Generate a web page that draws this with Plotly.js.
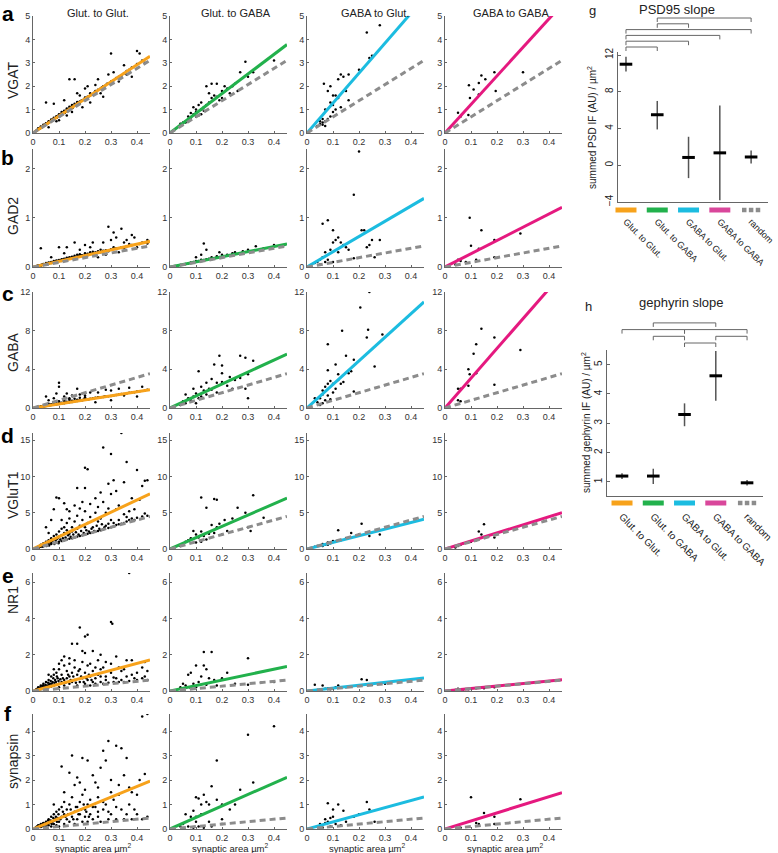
<!DOCTYPE html>
<html>
<head>
<meta charset="utf-8">
<script src="https://cdn.plot.ly/plotly-3.0.1.min.js"></script>
<style>
html, body { margin: 0; padding: 0; background: #fff; }
#chart { width: 778px; height: 853px; }
</style>
</head>
<body>
<div id="chart"></div>
<script>
const W = 778, H = 853;
const FONT = 'Arial, "Liberation Sans", sans-serif';

// ---- scatter grid data ----
const columnNames = ["Glut. to Glut.", "Glut. to GABA", "GABA to Glut.", "GABA to GABA"];
const rowMarkers = ["VGAT", "GAD2", "GABA", "VGluT1", "NR1", "synapsin"];
const rowLetters = ["a", "b", "c", "d", "e", "f"];
const yMaxes = [5, 2.4, 12, 16, 6.5, 4.7];
const yTickSets = [[0, 1, 2, 3, 4, 5], [0, 1, 2], [0, 4, 8, 12], [0, 5, 10, 15], [0, 2, 4, 6], [0, 1, 2, 3, 4]];
const xTicks = [0, 0.1, 0.2, 0.3, 0.4];
const xFitEnd = 0.45;

// fitted slopes, one per column, and the slope of the random pairing
const fitSlopes = [
	[7.3, 8.4, 12.8, 12.2],
	[1.16, 1.04, 3.1, 2.7],
	[4.2, 12.4, 24.4, 30.8],
	[16.9, 15.6, 9.1, 11.1],
	[3.8, 3.0, 1.6, 1.38],
	[4.35, 4.7, 2.9, 3.3]
];
const randomSlopes = [6.9, 0.95, 7.9, 10.0, 1.33, 1.0];
const fitColors = ["#F7A21B", "#22B14C", "#1CBCE0", "#E5197F"];
const randomColor = "#8c8c8c";

const vgatPoints = [
	[[0.01,0.08],[0.015,0.12],[0.02,0.15],[0.02,0.2],[0.025,0.18],[0.03,0.22],[0.03,0.28],[0.035,0.25],[0.04,0.3],[0.04,0.35],[0.045,0.32],[0.05,0.38],[0.05,0.42],[0.055,0.4],[0.06,0.45],[0.06,0.5],[0.065,0.48],[0.07,0.52],[0.07,0.58],[0.075,0.55],[0.08,0.6],[0.08,0.65],[0.085,0.62],[0.09,0.68],[0.09,0.72],[0.095,0.7],[0.1,0.75],[0.1,0.8],[0.105,0.78],[0.11,0.82],[0.11,0.9],[0.115,0.85],[0.12,0.88],[0.12,0.95],[0.125,0.92],[0.13,0.98],[0.13,1.05],[0.135,1.0],[0.14,1.05],[0.14,1.12],[0.145,1.08],[0.15,1.1],[0.15,1.2],[0.16,1.18],[0.16,1.25],[0.17,1.25],[0.17,1.32],[0.18,1.35],[0.18,1.28],[0.19,1.4],[0.2,1.45],[0.2,1.52],[0.21,1.55],[0.22,1.6],[0.22,1.7],[0.23,1.65],[0.24,1.8],[0.25,1.85],[0.26,1.9],[0.27,2.0],[0.28,2.05],[0.29,2.1],[0.3,2.2],[0.31,2.25],[0.32,2.35],[0.34,2.45],[0.35,2.55],[0.37,2.7],[0.38,2.8],[0.4,2.95],[0.42,3.1],[0.05,1.3],[0.08,1.25],[0.14,2.3],[0.16,2.3],[0.12,1.4],[0.17,1.7],[0.2,1.9],[0.25,2.3],[0.3,3.4],[0.4,3.5],[0.41,3.4],[0.36,2.5],[0.33,2.2],[0.38,2.4],[0.27,1.55],[0.1,0.55],[0.15,0.9],[0.19,1.1],[0.22,1.3],[0.24,2.05],[0.29,2.5],[0.35,2.9],[0.43,3.0],[0.06,0.25],[0.09,0.5],[0.13,0.75],[0.18,1.6],[0.21,2.0],[0.26,1.7],[0.31,2.6],
	 [0.012,0.1],[0.018,0.14],[0.022,0.17],[0.028,0.2],[0.032,0.24],[0.038,0.27],[0.042,0.33],[0.048,0.36],[0.052,0.37],[0.058,0.43],[0.062,0.47],[0.068,0.5],[0.072,0.53],[0.078,0.6],[0.082,0.58],[0.088,0.66],[0.092,0.65],[0.098,0.74],[0.102,0.72],[0.108,0.8],[0.112,0.78],[0.118,0.9],[0.122,0.86],[0.128,0.95],[0.132,0.93],[0.138,1.02],[0.142,1.0],[0.148,1.12],[0.152,1.07],[0.158,1.15],[0.162,1.2],[0.168,1.22],[0.172,1.28],[0.178,1.3],[0.185,1.38],[0.195,1.42],[0.205,1.5],[0.215,1.57],[0.235,1.72],[0.245,1.78],[0.265,1.95],[0.285,2.1],[0.33,2.4],[0.36,2.65]],
	[[0.05,0.45],[0.06,0.5],[0.07,0.55],[0.08,0.6],[0.09,1.1],[0.09,0.8],[0.1,0.9],[0.1,1.0],[0.1,0.7],[0.11,0.75],[0.11,1.2],[0.12,1.0],[0.12,1.3],[0.13,1.1],[0.13,0.95],[0.14,1.2],[0.14,2.0],[0.15,1.3],[0.15,1.7],[0.16,1.5],[0.16,2.1],[0.17,1.6],[0.18,1.55],[0.18,2.1],[0.19,1.4],[0.2,1.8],[0.21,2.0],[0.22,1.9],[0.23,1.7],[0.25,2.1],[0.27,2.6],[0.29,3.05],[0.3,2.4],[0.32,2.6],[0.4,3.1],[0.07,0.7],[0.08,0.85],[0.12,0.8],[0.04,0.4],[0.06,0.45],[0.2,1.5],[0.24,2.0],[0.26,1.8]],
	[[0.05,0.4],[0.05,0.5],[0.06,0.35],[0.06,0.45],[0.065,2.1],[0.07,0.5],[0.07,1.0],[0.08,1.8],[0.08,0.6],[0.09,1.3],[0.09,2.0],[0.1,1.2],[0.1,0.9],[0.11,1.0],[0.11,1.6],[0.12,2.3],[0.12,1.5],[0.13,2.5],[0.13,1.1],[0.14,2.4],[0.15,1.8],[0.16,2.5],[0.16,1.4],[0.2,2.7],[0.23,4.3],[0.24,3.2],[0.25,3.3],[0.28,4.6],[0.04,0.3],[0.07,0.3],[0.09,0.7],[0.1,1.6],[0.06,0.6]],
	[[0.092,2.04],[0.11,1.86],[0.096,1.5],[0.13,2.14],[0.14,2.46],[0.155,2.3],[0.19,2.6],[0.195,1.8],[0.3,2.6],[0.13,1.65],[0.05,0.87],[0.09,0.77],[0.06,0.7]]
];

const gad2Points = [
	[[0.01,0.01],[0.015,0.02],[0.02,0.02],[0.02,0.03],[0.025,0.03],[0.03,0.03],[0.03,0.04],[0.035,0.05],[0.04,0.04],[0.04,0.06],[0.045,0.05],[0.05,0.06],[0.05,0.08],[0.055,0.07],[0.06,0.07],[0.06,0.09],[0.065,0.08],[0.07,0.08],[0.07,0.1],[0.075,0.09],[0.08,0.1],[0.08,0.12],[0.085,0.1],[0.09,0.11],[0.09,0.13],[0.095,0.12],[0.1,0.12],[0.1,0.14],[0.105,0.13],[0.11,0.13],[0.11,0.16],[0.115,0.14],[0.12,0.15],[0.12,0.17],[0.13,0.16],[0.13,0.19],[0.14,0.17],[0.14,0.2],[0.15,0.18],[0.15,0.21],[0.16,0.2],[0.16,0.23],[0.17,0.21],[0.17,0.25],[0.18,0.22],[0.18,0.26],[0.19,0.24],[0.2,0.25],[0.2,0.28],[0.21,0.27],[0.22,0.3],[0.23,0.28],[0.24,0.3],[0.25,0.32],[0.26,0.3],[0.27,0.33],[0.28,0.34],[0.3,0.36],[0.32,0.38],[0.34,0.4],[0.36,0.42],[0.38,0.45],[0.41,0.47],[0.44,0.48],[0.03,0.38],[0.1,0.4],[0.13,0.4],[0.16,0.5],[0.2,0.45],[0.23,0.5],[0.27,0.5],[0.29,0.82],[0.3,0.55],[0.31,0.7],[0.34,0.78],[0.35,0.5],[0.32,0.6],[0.39,0.6],[0.42,0.5],[0.38,0.65],[0.28,0.25],[0.25,0.2],[0.33,0.3],[0.07,0.2],[0.12,0.28],[0.18,0.35],[0.22,0.4],[0.36,0.55],[0.4,0.4],[0.44,0.55],
	 [0.012,0.012],[0.018,0.025],[0.022,0.025],[0.028,0.035],[0.032,0.035],[0.038,0.045],[0.042,0.05],[0.048,0.055],[0.052,0.065],[0.058,0.06],[0.062,0.075],[0.068,0.09],[0.072,0.085],[0.078,0.1],[0.082,0.095],[0.088,0.115],[0.092,0.105],[0.098,0.125],[0.102,0.13],[0.108,0.12],[0.112,0.145],[0.118,0.155],[0.122,0.14],[0.128,0.17],[0.135,0.175],[0.145,0.19],[0.155,0.2],[0.165,0.19],[0.175,0.23],[0.185,0.24],[0.195,0.22],[0.21,0.24],[0.23,0.31],[0.26,0.35],[0.29,0.32],[0.31,0.4],[0.35,0.38],[0.37,0.47]],
	[[0.02,0.02],[0.03,0.03],[0.04,0.04],[0.05,0.05],[0.06,0.06],[0.07,0.07],[0.08,0.09],[0.09,0.1],[0.1,0.12],[0.11,0.12],[0.12,0.15],[0.13,0.48],[0.13,0.14],[0.14,0.35],[0.14,0.16],[0.15,0.17],[0.16,0.2],[0.17,0.18],[0.18,0.22],[0.2,0.25],[0.22,0.25],[0.24,0.28],[0.25,0.3],[0.28,0.32],[0.3,0.35],[0.33,0.42],[0.36,0.38],[0.4,0.45],[0.44,0.45],[0.1,0.2],[0.12,0.25],[0.19,0.3]],
	[[0.2,2.35],[0.18,1.47],[0.06,0.88],[0.08,0.95],[0.1,0.75],[0.21,0.75],[0.22,0.75],[0.1,0.5],[0.11,0.55],[0.12,0.6],[0.13,0.5],[0.09,0.35],[0.07,0.3],[0.06,0.2],[0.05,0.15],[0.04,0.1],[0.03,0.08],[0.05,0.05],[0.07,0.1],[0.08,0.15],[0.15,0.4],[0.16,0.35],[0.24,0.45],[0.25,0.55],[0.23,0.4],[0.28,0.55],[0.26,0.2],[0.18,0.18],[0.12,0.3],[0.1,0.1],[0.14,0.45]],
	[[0.095,1.0],[0.1,0.43],[0.14,0.75],[0.19,0.55],[0.29,0.68],[0.13,0.37],[0.05,0.15],[0.06,0.12],[0.04,0.05],[0.08,0.1],[0.12,0.15],[0.19,0.2]]
];

const gabaPoints = [
	[[0.01,0.05],[0.02,0.08],[0.02,0.12],[0.03,0.12],[0.03,0.18],[0.04,0.15],[0.04,0.22],[0.05,0.2],[0.05,0.28],[0.06,0.25],[0.06,0.32],[0.07,0.3],[0.07,0.38],[0.08,0.35],[0.08,0.42],[0.09,0.38],[0.09,0.48],[0.1,0.42],[0.1,0.5],[0.11,0.45],[0.11,0.55],[0.12,0.5],[0.12,0.6],[0.13,0.55],[0.13,0.65],[0.14,0.6],[0.14,0.7],[0.15,0.62],[0.15,0.75],[0.16,0.7],[0.17,0.72],[0.17,0.85],[0.18,0.78],[0.19,0.8],[0.2,0.85],[0.2,0.95],[0.21,0.9],[0.22,0.95],[0.23,1.0],[0.24,1.05],[0.25,1.1],[0.26,1.1],[0.27,1.15],[0.28,1.2],[0.3,1.25],[0.32,1.35],[0.34,1.45],[0.36,1.5],[0.38,1.6],[0.4,1.7],[0.43,1.8],[0.1,2.6],[0.1,2.2],[0.09,1.5],[0.05,1.2],[0.13,1.5],[0.12,1.2],[0.08,1.0],[0.15,1.3],[0.18,1.4],[0.2,1.3],[0.22,1.6],[0.25,1.6],[0.28,1.9],[0.3,1.8],[0.33,2.0],[0.35,1.3],[0.37,2.1],[0.4,1.2],[0.42,2.2],[0.44,1.9],[0.17,2.0],[0.24,0.6],[0.3,0.8],[0.06,0.8],[0.14,1.0],
	 [0.015,0.07],[0.025,0.1],[0.035,0.15],[0.045,0.18],[0.055,0.24],[0.065,0.28],[0.075,0.33],[0.085,0.38],[0.095,0.42],[0.105,0.45],[0.115,0.52],[0.125,0.56],[0.135,0.6],[0.145,0.64],[0.155,0.68],[0.165,0.72],[0.175,0.75],[0.185,0.8],[0.195,0.88],[0.215,0.9],[0.235,1.02],[0.255,1.06],[0.275,1.2],[0.29,1.22],[0.31,1.3],[0.33,1.4],[0.35,1.45],[0.37,1.58],[0.39,1.62],[0.41,1.72],[0.08,0.6],[0.1,0.7],[0.12,0.8],[0.06,0.45],[0.14,0.9],[0.16,0.95],[0.18,1.05],[0.2,1.1]],
	[[0.11,3.8],[0.19,5.4],[0.17,4.5],[0.2,4.4],[0.27,5.4],[0.29,5.2],[0.32,4.9],[0.3,1.0],[0.29,2.0],[0.3,3.5],[0.23,3.2],[0.2,2.7],[0.15,2.0],[0.12,2.2],[0.13,1.8],[0.1,1.5],[0.09,1.2],[0.08,0.8],[0.06,0.5],[0.05,0.7],[0.04,0.3],[0.07,1.0],[0.1,0.5],[0.12,1.2],[0.14,1.4],[0.16,1.9],[0.18,2.6],[0.22,2.3],[0.25,2.9],[0.14,2.6],[0.09,2.0],[0.06,1.4],[0.11,1.0],[0.16,3.0],[0.2,3.6],[0.24,2.0],[0.27,3.1],[0.18,1.6]],
	[[0.24,12],[0.205,10.4],[0.135,8.0],[0.235,8.1],[0.23,7.3],[0.29,7.6],[0.08,6.6],[0.18,5.0],[0.15,5.4],[0.26,4.3],[0.11,4.5],[0.08,3.9],[0.17,3.8],[0.16,3.6],[0.12,2.9],[0.1,2.5],[0.13,2.5],[0.09,2.8],[0.07,2.2],[0.06,1.4],[0.05,1.0],[0.04,0.6],[0.05,0.3],[0.06,0.5],[0.07,0.8],[0.08,1.3],[0.09,0.9],[0.1,1.6],[0.11,2.0],[0.14,2.7],[0.18,1.7],[0.03,1.0],[0.06,1.8],[0.08,2.5],[0.12,3.5]],
	[[0.14,8.2],[0.19,7.3],[0.12,6.6],[0.11,5.6],[0.29,6.0],[0.09,4.0],[0.095,3.5],[0.12,3.6],[0.19,2.4],[0.05,2.0],[0.06,2.0],[0.09,2.3],[0.05,0.8],[0.06,0.7]]
];

const vglut1Points = [
	[[0.01,0.1],[0.015,0.2],[0.02,0.3],[0.02,0.15],[0.025,0.4],[0.03,0.3],[0.03,0.6],[0.035,0.5],[0.04,0.4],[0.04,0.8],[0.045,0.6],[0.05,0.5],[0.05,1.0],[0.055,0.8],[0.06,0.6],[0.06,1.2],[0.065,0.9],[0.07,0.7],[0.07,1.5],[0.075,1.1],[0.08,0.8],[0.08,1.8],[0.085,1.3],[0.09,0.9],[0.09,2.0],[0.095,1.5],[0.1,1.0],[0.1,2.4],[0.1,1.7],[0.11,1.1],[0.11,2.8],[0.11,1.9],[0.12,1.2],[0.12,3.0],[0.12,2.2],[0.13,1.3],[0.13,2.6],[0.13,3.6],[0.14,1.4],[0.14,2.1],[0.14,4.2],[0.15,1.5],[0.15,3.0],[0.15,2.4],[0.16,1.6],[0.16,3.8],[0.17,1.7],[0.17,2.8],[0.17,4.6],[0.18,1.8],[0.18,3.2],[0.19,1.9],[0.19,4.0],[0.2,2.0],[0.2,3.0],[0.2,5.2],[0.21,2.1],[0.21,3.6],[0.22,2.2],[0.22,4.4],[0.23,2.3],[0.23,3.0],[0.24,2.4],[0.24,5.0],[0.25,2.5],[0.25,3.8],[0.26,2.6],[0.26,4.2],[0.27,2.7],[0.28,3.2],[0.28,5.0],[0.29,2.9],[0.3,3.0],[0.3,4.0],[0.31,3.1],[0.32,3.3],[0.32,5.5],[0.33,3.4],[0.34,3.5],[0.35,3.6],[0.36,3.8],[0.37,4.0],[0.38,4.2],[0.4,4.3],[0.42,4.5],[0.44,4.6],[0.34,16],[0.27,14],[0.3,13.1],[0.36,12],[0.2,11.2],[0.21,11],[0.4,10.9],[0.09,7.1],[0.1,7.0],[0.17,8.4],[0.2,8.4],[0.29,9.0],[0.31,9.5],[0.35,9.2],[0.43,9.4],[0.3,7.6],[0.24,7.0],[0.12,6.3],[0.16,6.0],[0.08,5.5],[0.27,6.5],[0.33,6.0],[0.38,7.0],[0.42,8.7],[0.22,6.2],[0.25,5.8],[0.14,5.2],[0.05,3.0],[0.06,2.2],[0.11,4.0],[0.18,5.6],[0.19,6.5],[0.29,5.6],[0.35,4.8],[0.39,5.5],[0.41,6.8],[0.07,4.0],[0.13,5.5],[0.26,7.8],[0.32,8.0],[0.37,5.2],[0.44,9.5],
	 [0.012,0.15],[0.018,0.25],[0.022,0.2],[0.028,0.35],[0.032,0.45],[0.038,0.3],[0.042,0.6],[0.048,0.7],[0.052,0.4],[0.058,0.9],[0.062,0.5],[0.068,1.0],[0.072,0.9],[0.078,1.3],[0.082,0.7],[0.088,1.1],[0.092,1.4],[0.098,0.8],[0.105,1.3],[0.115,1.5],[0.125,1.6],[0.135,1.9],[0.145,1.7],[0.155,2.0],[0.165,2.3],[0.175,2.0],[0.185,2.5],[0.195,2.2],[0.205,2.6],[0.215,2.4],[0.225,2.8],[0.235,2.5],[0.245,3.2],[0.255,2.8],[0.265,3.4],[0.275,3.0],[0.29,3.5],[0.31,3.6],[0.33,4.0],[0.36,4.4],[0.39,4.0],[0.43,4.9]],
	[[0.12,7.1],[0.17,6.9],[0.18,6.8],[0.32,7.4],[0.14,5.7],[0.26,5.7],[0.29,5.0],[0.24,4.2],[0.21,4.0],[0.19,3.5],[0.16,3.3],[0.3,3.0],[0.31,2.5],[0.36,4.3],[0.1,2.0],[0.12,2.4],[0.08,1.5],[0.09,2.5],[0.06,1.0],[0.05,0.6],[0.07,1.2],[0.11,1.6],[0.13,1.8],[0.15,2.1],[0.17,2.2],[0.2,2.0],[0.22,2.5],[0.14,1.3],[0.1,0.9],[0.04,0.4],[0.12,1.0],[0.18,3.0]],
	[[0.12,2.6],[0.21,3.5],[0.17,2.2],[0.28,2.0],[0.24,1.8],[0.15,1.5],[0.1,1.1],[0.08,0.9],[0.06,0.7],[0.05,0.5],[0.04,0.4],[0.07,0.6],[0.09,0.8],[0.11,1.0],[0.13,1.2],[0.03,0.3],[0.2,2.0],[0.23,2.3],[0.06,0.4],[0.08,0.6]],
	[[0.15,3.4],[0.13,2.4],[0.14,2.0],[0.19,1.6],[0.1,1.0],[0.07,0.8],[0.05,0.4],[0.04,0.2],[0.12,1.2],[0.06,0.6]]
];

const nr1Points = [
	[[0.01,0.05],[0.015,0.1],[0.02,0.2],[0.02,0.05],[0.025,0.15],[0.03,0.3],[0.03,0.1],[0.035,0.2],[0.04,0.4],[0.04,0.1],[0.045,0.25],[0.05,0.5],[0.05,0.15],[0.055,0.3],[0.06,0.6],[0.06,0.2],[0.065,0.4],[0.07,0.8],[0.07,0.25],[0.075,0.5],[0.08,0.3],[0.08,0.9],[0.085,0.6],[0.09,0.35],[0.09,1.0],[0.095,0.7],[0.1,0.4],[0.1,1.2],[0.1,0.2],[0.11,0.5],[0.11,0.9],[0.12,0.6],[0.12,1.4],[0.12,0.3],[0.13,0.7],[0.13,1.1],[0.14,0.4],[0.14,0.8],[0.14,1.5],[0.15,0.5],[0.15,1.0],[0.16,0.6],[0.16,1.3],[0.17,0.3],[0.17,0.9],[0.18,0.5],[0.18,1.2],[0.19,0.7],[0.19,1.6],[0.2,0.4],[0.2,1.0],[0.21,0.6],[0.21,1.4],[0.22,0.3],[0.22,0.8],[0.23,0.5],[0.23,1.1],[0.24,0.4],[0.25,0.9],[0.26,0.5],[0.26,1.2],[0.27,0.4],[0.28,0.8],[0.29,0.45],[0.3,1.0],[0.31,0.5],[0.32,0.7],[0.33,0.5],[0.34,1.1],[0.35,0.5],[0.36,0.8],[0.37,0.55],[0.38,0.9],[0.4,0.6],[0.42,0.7],[0.44,0.6],[0.37,6.5],[0.3,3.8],[0.305,3.7],[0.18,3.5],[0.2,3.0],[0.21,3.1],[0.15,2.6],[0.17,2.6],[0.19,2.2],[0.2,2.1],[0.26,2.0],[0.32,1.9],[0.36,1.7],[0.38,1.7],[0.43,1.6],[0.44,1.1],[0.12,1.9],[0.14,1.8],[0.16,1.7],[0.1,1.5],[0.08,1.2],[0.06,0.9],[0.22,1.5],[0.24,1.3],[0.27,1.3],[0.3,1.5],[0.33,1.3],[0.35,1.2],[0.4,1.0],[0.42,1.3],[0.25,1.7],[0.28,1.6],[0.11,1.7],[0.23,2.2],
	 [0.012,0.08],[0.018,0.12],[0.022,0.1],[0.028,0.2],[0.032,0.15],[0.038,0.3],[0.042,0.25],[0.048,0.35],[0.052,0.2],[0.058,0.45],[0.062,0.35],[0.068,0.55],[0.072,0.4],[0.078,0.7],[0.082,0.45],[0.088,0.5],[0.092,0.8],[0.098,0.55],[0.105,0.65],[0.115,0.7],[0.125,0.45],[0.135,0.9],[0.145,0.6],[0.155,0.8],[0.165,0.45],[0.175,1.1],[0.185,0.8],[0.195,0.5],[0.205,0.7],[0.215,0.9],[0.225,0.6],[0.24,0.7],[0.26,0.8],[0.28,0.6],[0.31,0.75],[0.34,0.6],[0.39,0.7],[0.43,0.8]],
	[[0.13,2.15],[0.16,2.15],[0.3,1.8],[0.13,1.4],[0.14,1.2],[0.1,1.4],[0.08,1.0],[0.07,0.9],[0.12,0.8],[0.15,0.7],[0.2,0.7],[0.22,1.0],[0.05,0.4],[0.06,0.3],[0.09,0.4],[0.11,0.5],[0.1,0.2],[0.14,0.35],[0.18,0.3],[0.25,0.4],[0.3,0.35],[0.35,0.45],[0.4,0.5],[0.04,0.2],[0.08,0.15],[0.17,0.6]],
	[[0.21,0.65],[0.23,0.6],[0.03,0.35],[0.06,0.3],[0.05,0.1],[0.07,0.12],[0.08,0.15],[0.1,0.15],[0.12,0.3],[0.15,0.2],[0.17,0.25],[0.04,0.05],[0.09,0.1],[0.11,0.2],[0.13,0.18],[0.2,0.3],[0.25,0.35],[0.3,0.4]],
	[[0.05,0.12],[0.06,0.1],[0.07,0.08],[0.1,0.12],[0.12,0.15],[0.15,0.15],[0.19,0.2],[0.04,0.05],[0.09,0.1]]
];

const synapsinPoints = [
	[[0.01,0.05],[0.015,0.1],[0.02,0.15],[0.02,0.05],[0.025,0.1],[0.03,0.2],[0.03,0.08],[0.035,0.15],[0.04,0.25],[0.04,0.1],[0.045,0.2],[0.05,0.3],[0.05,0.1],[0.055,0.2],[0.06,0.4],[0.06,0.15],[0.065,0.25],[0.07,0.5],[0.07,0.1],[0.075,0.3],[0.08,0.6],[0.08,0.2],[0.085,0.4],[0.09,0.7],[0.09,0.15],[0.095,0.45],[0.1,0.8],[0.1,0.3],[0.1,0.1],[0.11,0.5],[0.11,0.9],[0.12,0.6],[0.12,0.2],[0.12,1.1],[0.13,0.4],[0.13,0.8],[0.14,0.3],[0.14,1.0],[0.15,0.5],[0.15,1.3],[0.16,0.7],[0.16,0.2],[0.17,0.9],[0.17,0.4],[0.18,1.1],[0.18,0.6],[0.19,0.3],[0.19,1.4],[0.2,0.8],[0.2,0.5],[0.21,1.0],[0.21,0.3],[0.22,1.2],[0.22,0.6],[0.23,0.4],[0.24,0.9],[0.25,1.3],[0.25,0.5],[0.26,0.3],[0.27,0.8],[0.28,1.0],[0.29,0.4],[0.3,0.6],[0.31,1.2],[0.32,0.4],[0.34,0.8],[0.35,0.4],[0.37,1.0],[0.38,0.4],[0.4,0.6],[0.42,0.4],[0.44,0.5],[0.42,4.6],[0.44,4.7],[0.29,3.6],[0.32,3.4],[0.34,3.3],[0.27,3.2],[0.36,2.9],[0.15,3.0],[0.19,2.9],[0.21,2.8],[0.28,2.8],[0.11,2.55],[0.14,2.3],[0.17,2.1],[0.18,1.9],[0.23,2.2],[0.3,2.0],[0.35,2.2],[0.43,2.25],[0.38,1.5],[0.4,1.4],[0.37,1.7],[0.33,1.8],[0.25,1.7],[0.26,2.5],[0.3,1.5],[0.12,1.5],[0.16,1.8],[0.2,1.6],[0.24,1.9],[0.08,1.0],[0.33,1.4],[0.41,2.0],
	 [0.012,0.06],[0.018,0.08],[0.022,0.12],[0.028,0.15],[0.032,0.12],[0.038,0.22],[0.042,0.18],[0.048,0.25],[0.052,0.2],[0.058,0.35],[0.062,0.28],[0.068,0.35],[0.072,0.2],[0.078,0.45],[0.082,0.35],[0.088,0.5],[0.092,0.3],[0.098,0.6],[0.105,0.4],[0.115,0.7],[0.125,0.5],[0.135,0.6],[0.145,0.8],[0.155,0.4],[0.165,0.9],[0.175,0.6],[0.185,0.8],[0.195,1.0],[0.205,0.7],[0.215,0.5],[0.23,0.9],[0.25,0.7],[0.27,1.1],[0.29,0.7],[0.32,0.9],[0.36,0.6],[0.39,0.8]],
	[[0.4,4.2],[0.3,3.85],[0.18,2.8],[0.32,1.9],[0.16,1.75],[0.27,1.6],[0.1,1.3],[0.11,1.25],[0.13,1.4],[0.15,1.0],[0.12,1.0],[0.09,0.75],[0.14,1.1],[0.18,1.2],[0.2,1.0],[0.23,0.8],[0.25,1.0],[0.06,0.6],[0.08,0.5],[0.1,0.5],[0.12,0.6],[0.05,0.2],[0.07,0.1],[0.09,0.05],[0.11,0.1],[0.13,0.05],[0.16,0.1],[0.2,0.2],[0.1,0.3],[0.15,0.3],[0.2,0.4],[0.04,0.1]],
	[[0.08,1.05],[0.12,1.0],[0.23,1.1],[0.24,0.8],[0.14,0.75],[0.1,0.5],[0.09,0.45],[0.18,0.5],[0.05,0.2],[0.06,0.15],[0.07,0.25],[0.08,0.3],[0.04,0.1],[0.06,0.05],[0.09,0.1],[0.11,0.2],[0.13,0.15],[0.15,0.3],[0.2,0.6],[0.26,0.3],[0.1,0.8],[0.07,0.4]],
	[[0.1,1.3],[0.29,1.22],[0.15,0.65],[0.19,0.5],[0.12,0.25],[0.13,0.2],[0.19,0.2],[0.06,0.05]]
];

const rowPoints = [vgatPoints, gad2Points, gabaPoints, vglut1Points, nr1Points, synapsinPoints];

// ---- slope summary panels (g, h) ----
const slopeCategories = ["Glut. to Glut.", "Glut. to GABA", "GABA to Glut.", "GABA to GABA", "random"];
const categoryColors = ["#F7A21B", "#22B14C", "#1CBCE0", "#D9479B"];
const psdMean = [11.0, 5.5, 0.85, 1.35, 0.9];
const psdLow = [10.2, 3.9, -1.4, -3.8, 0.2];
const psdHigh = [11.8, 7.0, 3.1, 6.5, 1.6];
const gephMean = [1.2, 1.2, 3.3, 4.62, 0.97];
const gephLow = [1.1, 0.93, 2.9, 3.77, 0.88];
const gephHigh = [1.3, 1.45, 3.68, 5.47, 1.07];
// significance brackets, listed bottom to top
const psdBrackets = [[1, 2], [1, 3], [1, 4], [1, 5], [2, 3], [2, 5]];
const psdBracketLevels = [0, 1, 2, 3, 4, 5];
const gephBrackets = [[3, 4], [2, 3], [4, 5], [1, 3], [3, 5], [2, 4]];
const gephBracketLevels = [0, 1, 1, 2, 2, 3];

// ---- pixel layout ----
const colPx = [[33, 150], [170, 287], [307, 424], [445, 562]];
const rowPx = [[16, 133], [149, 267], [292, 408], [433, 549], [573, 691], [714, 829]];

function px(x) { return x / W; }
function py(y) { return 1 - y / H; }

let traces = [];
let layout = {
	width: W,
	height: H,
	margin: { l: 0, r: 0, t: 0, b: 0 },
	showlegend: false,
	paper_bgcolor: "#fff",
	plot_bgcolor: "rgba(0,0,0,0)",
	font: { family: FONT, color: "#333" },
	annotations: []
};

const axisStyle = {
	showline: true,
	linecolor: "#666",
	linewidth: 1,
	ticks: "inside",
	ticklen: 2,
	tickcolor: "#666",
	showgrid: false,
	zeroline: false,
	fixedrange: true,
	tickfont: { size: 9, color: "#333", family: FONT }
};

function addText(text, x, y, size, opts) {
	layout.annotations.push(Object.assign({
		text: text, x: px(x), y: py(y), xref: "paper", yref: "paper",
		showarrow: false, xanchor: "center", yanchor: "middle",
		font: { size: size, color: "#222", family: FONT }
	}, opts || {}));
}

rowMarkers.forEach((marker, r) => {
	columnNames.forEach((col, c) => {
		let n = r * 4 + c + 1;
		let s = n === 1 ? "" : String(n);
		let xa = "x" + s, ya = "y" + s;
		layout["xaxis" + s] = Object.assign({}, axisStyle, {
			domain: [px(colPx[c][0]), px(colPx[c][1])],
			range: [0, 0.45], anchor: ya, tickvals: xTicks
		});
		layout["yaxis" + s] = Object.assign({}, axisStyle, {
			domain: [py(rowPx[r][1]), py(rowPx[r][0])],
			range: [0, yMaxes[r]], anchor: xa, tickvals: yTickSets[r]
		});
		let pts = rowPoints[r][c];
		traces.push({
			type: "scatter", mode: "markers", xaxis: xa, yaxis: ya,
			x: pts.map(p => p[0]), y: pts.map(p => p[1]),
			marker: { size: 2.5, color: "#000" }, hoverinfo: "skip"
		});
		traces.push({
			type: "scatter", mode: "lines", xaxis: xa, yaxis: ya,
			x: [0, xFitEnd], y: [0, fitSlopes[r][c] * xFitEnd],
			line: { color: fitColors[c], width: 3 }, hoverinfo: "skip"
		});
		traces.push({
			type: "scatter", mode: "lines", xaxis: xa, yaxis: ya,
			x: [0, xFitEnd], y: [0, randomSlopes[r] * xFitEnd],
			line: { color: randomColor, width: 3, dash: "6px,4px" }, hoverinfo: "skip"
		});
	});
});

// column titles, row letters and labels, x titles
const colTitleX = [98, 236, 375, 511];
columnNames.forEach((name, c) => addText(name, colTitleX[c], 13, 11));
const letterY = [14, 158, 293, 435, 575, 713];
const labelY = [80, 216, 352, 495, 600, 762];
rowMarkers.forEach((m, r) => {
	addText("<b>" + rowLetters[r] + "</b>", 8, letterY[r], 21, { font: { size: 21, color: "#000", family: FONT } });
	addText(m, 13, labelY[r], 14, { textangle: -90 });
});
colPx.forEach(cp => addText("synaptic area \u00b5m<sup>2</sup>", (cp[0] + cp[1]) / 2 + 2, 848, 9.5));

// summary panel helper: axis n = data, n+1 = brackets, n+2 = colour keys
function slopePanel(n, mean, low, high, xPx, xRange, yPx, yRange, yTicks, brackets, levels, bPx, bBase, bStep, keyPx, catFont) {
	let xa = "x" + n, ya = "y" + n;
	layout["xaxis" + n] = Object.assign({}, axisStyle, {
		domain: [px(xPx[0]), px(xPx[1])], range: xRange.slice(), anchor: ya,
		tickvals: [1, 2, 3, 4, 5], ticktext: slopeCategories, tickangle: 45,
		ticks: "outside", ticklen: 10, tickcolor: "rgba(0,0,0,0)",
		ticklabeloverflow: "allow",
		tickfont: { size: catFont, color: "#222", family: FONT }
	});
	layout["yaxis" + n] = Object.assign({}, axisStyle, {
		domain: [py(yPx[1]), py(yPx[0])], range: yRange, anchor: xa,
		tickvals: yTicks, tickangle: -90, ticklen: 3,
		tickfont: { size: 10, color: "#222", family: FONT }
	});
	let cats = [1, 2, 3, 4, 5];
	traces.push({
		type: "scatter", mode: "markers", xaxis: xa, yaxis: ya, x: cats, y: mean,
		error_y: {
			type: "data", symmetric: false,
			array: high.map((h, i) => h - mean[i]),
			arrayminus: low.map((l, i) => mean[i] - l),
			color: "#555", thickness: 1.5, width: 0
		},
		marker: { symbol: "line-ew", size: 9, line: { width: 3, color: "#000" } },
		cliponaxis: false, hoverinfo: "skip"
	});

	// brackets on their own hidden axes
	let bn = n + 1;
	let bx = "x" + bn, by = "y" + bn;
	layout["xaxis" + bn] = { domain: [px(xPx[0]), px(xPx[1])], range: xRange.slice(), anchor: by, visible: false, fixedrange: true };
	layout["yaxis" + bn] = { domain: [py(bPx[1]), py(bPx[0])], range: [0, bPx[1] - bPx[0]], anchor: bx, visible: false, fixedrange: true };
	let bxs = [], bys = [];
	brackets.forEach((b, i) => {
		let top = bBase + levels[i] * bStep;
		bxs.push(b[0], b[0], b[1], b[1], null);
		bys.push(top - 4, top, top, top - 4, null);
	});
	traces.push({
		type: "scatter", mode: "lines", xaxis: bx, yaxis: by, x: bxs, y: bys,
		line: { color: "#666", width: 1 }, hoverinfo: "skip", cliponaxis: false
	});

	// colour keys just under the category axis
	let kn = n + 2;
	let kx = "x" + kn, ky = "y" + kn;
	layout["xaxis" + kn] = { domain: [px(xPx[0]), px(xPx[1])], range: xRange.slice(), anchor: ky, visible: false, fixedrange: true };
	layout["yaxis" + kn] = { domain: [py(keyPx[1]), py(keyPx[0])], range: [0, 2], anchor: kx, visible: false, fixedrange: true };
	traces.push({
		type: "scatter", mode: "markers", xaxis: kx, yaxis: ky,
		x: cats.slice(0, 4), y: [1, 1, 1, 1],
		marker: { symbol: "line-ew", size: 15, line: { width: 5, color: categoryColors } },
		cliponaxis: false, hoverinfo: "skip"
	});
	traces.push({
		type: "scatter", mode: "markers", xaxis: kx, yaxis: ky,
		x: [4.78, 5, 5.22], y: [1, 1, 1],
		marker: { symbol: "square", size: 4.5, color: randomColor },
		cliponaxis: false, hoverinfo: "skip"
	});
}

slopePanel(25, psdMean, psdLow, psdHigh, [618, 768], [0.745, 5.54], [52, 202], [-4, 12.33], [-4, 0, 4, 8, 12],
	psdBrackets, psdBracketLevels, [12, 54], 7, 5.8, [204, 216], 9);
slopePanel(28, gephMean, gephLow, gephHigh, [607, 763], [0.52, 5.51], [350, 496], [0.52, 5.5], [1, 2, 3, 4, 5],
	gephBrackets, gephBracketLevels, [316, 348], 5, 6.7, [497, 509], 10);

addText("g", 592, 10, 13);
addText("PSD95 slope", 677, 9, 13);
addText("summed PSD IF (AU) / \u00b5m<sup>2</sup>", 592, 128, 10, { textangle: -90 });
addText("h", 588, 306, 13);
addText("gephyrin slope", 681, 302, 13);
addText("summed gephyrin IF (AU) / \u00b5m<sup>2</sup>", 586, 423, 10, { textangle: -90 });

Plotly.newPlot("chart", traces, layout, { displayModeBar: false, staticPlot: true });
</script>
</body>
</html>
